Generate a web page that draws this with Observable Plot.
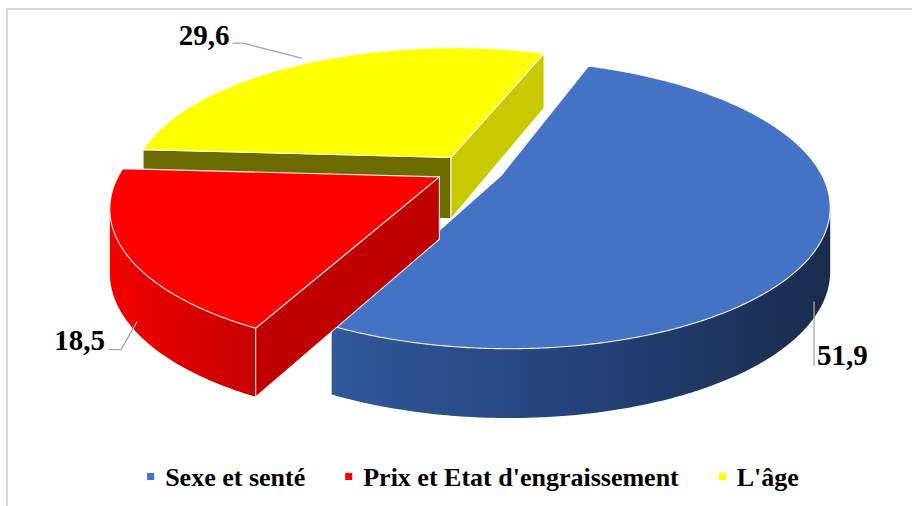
<!DOCTYPE html>
<html><head><meta charset="utf-8">
<script src="https://cdn.jsdelivr.net/npm/d3@7"></script>
<script src="https://cdn.jsdelivr.net/npm/@observablehq/plot@0.6"></script>
<style>
html,body{margin:0;padding:0;background:#fff;overflow:hidden;width:912px;height:506px;}
#frame{position:absolute;left:6px;top:8px;width:1000px;height:600px;border:2px solid #dadada;box-sizing:border-box;}
#chart{position:absolute;left:0;top:0;}
</style></head><body>
<div id="frame"></div>
<div id="chart"></div>
<script>
// ---- data ----
const categories = ["Sexe et senté", "Prix et Etat d'engraissement", "L'âge"];
const values = [51.9, 18.5, 29.6];
const valueLabels = ["51,9", "18,5", "29,6"];
const topColors = ["#4472C4", "#FF0000", "#FFFF00"];
const wallStops = [["#30589B", "#25427A", "#1A2B4C"], ["#F20000", "#DC0000", "#C60000"], ["#8A8A00", "#7A7A00", "#6B6B00"]];
const startCutColors = ["#2F5597", "#C00000", "#6B6B00"];
const endCutColors = ["#2F5597", "#C00000", "#C9C900"];

// ---- geometry (layout) ----
const W = 912, H = 506;
const G = {cx: 469, cy: 169, A: 318, B: 136, p: 0.2, D: 62, q: 0.113, explode: 0.108, start: 20};
const FONT = "'Liberation Serif', 'Times New Roman', Times, serif";
const rad = d => d * Math.PI / 180;
function proj(U, V, h) {
  const w = 1 - G.p * V;
  return {x: G.cx + G.A * U / w, y: G.cy + G.B * V / w + h * G.D * (1 + G.q * V)};
}
const total = d3.sum(values);
let acc = G.start;
const slices = values.map((v, i) => {
  const a0 = acc, a1 = acc + v / total * 360; acc = a1;
  const mid = (a0 + a1) / 2;
  return {i, a0, a1, mid, ou: G.explode * Math.sin(rad(mid)), ov: -G.explode * Math.cos(rad(mid))};
});
const pt = (s, deg, h) => proj(s.ou + Math.sin(rad(deg)), s.ov - Math.cos(rad(deg)), h);
const apex = (s, h) => proj(s.ou, s.ov, h);
function area(pts) { let a = 0; for (let k = 0; k < pts.length; k++) { const p = pts[k], q = pts[(k + 1) % pts.length]; a += p.x * q.y - q.x * p.y; } return a / 2; }
function arc(s, from, to, h) { const n = Math.max(2, Math.ceil(Math.abs(to - from) / 0.5)); return d3.range(n + 1).map(k => pt(s, from + (to - from) * k / n, h)); }

const faces = [];
const order = slices.slice().sort((a, b) => a.ov - b.ov);
for (const s of order) {
  let lo = null, hi = null;
  const step = 0.5;
  for (let a = s.a0; a < s.a1 - 1e-9; a += step) {
    const b = Math.min(a + step, s.a1);
    const quad = [pt(s, b, 0), pt(s, a, 0), pt(s, a, 1), pt(s, b, 1)];
    if (area(quad) > 0) { if (lo === null) lo = a; hi = b; }
  }
  if (lo !== null) {
    const poly = arc(s, lo, hi, 0).concat(arc(s, hi, lo, 1));
    faces.push({pts: poly, fill: `url(#wall${s.i})`, stroke: "none"});
  }
  const A0 = apex(s, 0), A1 = apex(s, 1);
  const startFace = [pt(s, s.a0, 0), A0, A1, pt(s, s.a0, 1)];
  if (area(startFace) > 0) faces.push({pts: startFace, fill: startCutColors[s.i], stroke: "#fff"});
  const endFace = [A0, pt(s, s.a1, 0), pt(s, s.a1, 1), A1];
  if (area(endFace) > 0) faces.push({pts: endFace, fill: endCutColors[s.i], stroke: "#fff"});
  faces.push({pts: [A0].concat(arc(s, s.a0, s.a1, 0)), fill: topColors[s.i], stroke: "#fff"});
}

// ---- value labels with leader lines (offsets from the slice bisector rim point) ----
const labelLayout = [
  {h: 1, path: [[-10, 2], [-10, 65]], text: [-7, 65], anchor: "start"},
  {h: 1, path: [[11, 2], [-5, 30], [-17, 30]], text: [-21, 30], anchor: "end"},
  {h: 0, path: [[-5, -5], [-63, -20], [-73, -20]], text: [-77, -18], anchor: "end"}
];
const leaders = [], labelRows = [];
slices.forEach(s => {
  const L = labelLayout[s.i];
  const a = pt(s, s.mid, L.h);
  leaders.push(L.path.map(([dx, dy]) => ({x: a.x + dx, y: a.y + dy, k: s.i})));
  labelRows.push({x: a.x + L.text[0], y: a.y + L.text[1], label: valueLabels[s.i], anchor: L.anchor});
});

// ---- legend layout ----
const ctx = document.createElement("canvas").getContext("2d");
ctx.font = "bold 26px " + FONT;
const tw = categories.map(c => ctx.measureText(c).width);
const mk = 7, mkGap = 11, itemGap = 40, legendCenter = 472.5, legendBase = 485;
const legendTotal = d3.sum(tw) + categories.length * (mk + mkGap) + (categories.length - 1) * itemGap;
let lx = legendCenter - legendTotal / 2;
const legendRows = categories.map((c, i) => {
  const r = {name: c, mx: lx + mk / 2, tx: lx + mk + mkGap, color: topColors[i]};
  lx += mk + mkGap + tw[i] + itemGap;
  return r;
});

const marks = [];
for (const f of faces) {
  const pts = f.pts.concat([f.pts[0]]);
  marks.push(Plot.line(pts, {x: "x", y: "y", fill: f.fill, stroke: f.stroke, strokeWidth: 1.1, strokeOpacity: 0.9, strokeLinejoin: "round"}));
}
for (const l of leaders) marks.push(Plot.line(l, {x: "x", y: "y", stroke: "#A6A6A6", strokeWidth: 1.3}));
for (const r of labelRows) marks.push(Plot.text([r], {x: "x", y: "y", text: "label", textAnchor: r.anchor, lineAnchor: "bottom", fontSize: 29, fontWeight: "bold", fontFamily: FONT, fill: "#000"}));
marks.push(Plot.dot(legendRows, {x: "mx", y: () => legendBase - 9, symbol: "square", r: 4, fill: "color", stroke: null}));
marks.push(Plot.text(legendRows, {x: "tx", y: () => legendBase, text: "name", textAnchor: "start", lineAnchor: "bottom", fontSize: 26, fontWeight: "bold", fontFamily: FONT, fill: "#000"}));

const plot = Plot.plot({
  width: W, height: H, margin: 0,
  x: {domain: [0, W], range: [0, W], axis: null},
  y: {domain: [0, H], range: [0, H], axis: null},
  color: {type: "identity"},
  style: {background: "transparent", overflow: "visible", fontFamily: FONT},
  marks
});
const svg = plot.tagName.toLowerCase() === "svg" ? plot : plot.querySelector("svg");
const ns = "http://www.w3.org/2000/svg";
const defs = document.createElementNS(ns, "defs");
wallStops.forEach((stops, i) => {
  const g = document.createElementNS(ns, "linearGradient");
  g.setAttribute("id", `wall${i}`);
  g.setAttribute("x1", "0"); g.setAttribute("x2", "1"); g.setAttribute("y1", "0"); g.setAttribute("y2", "0");
  stops.forEach((c, k) => {
    const st = document.createElementNS(ns, "stop");
    st.setAttribute("offset", String(k / (stops.length - 1)));
    st.setAttribute("stop-color", c);
    g.appendChild(st);
  });
  defs.appendChild(g);
});
svg.insertBefore(defs, svg.firstChild);
document.getElementById("chart").append(plot);
</script>
</body></html>
